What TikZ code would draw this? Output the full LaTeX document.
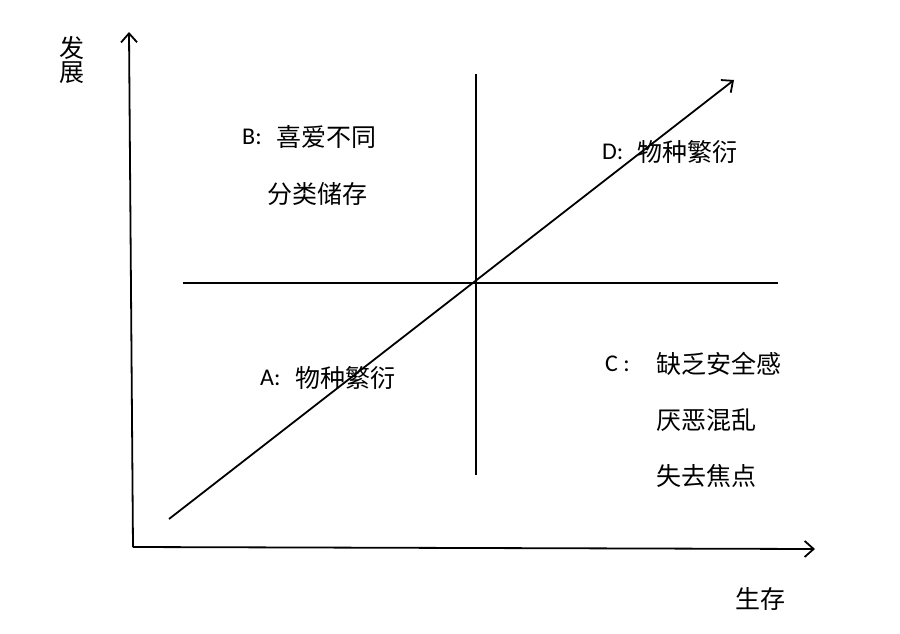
\documentclass[tikz,border=0pt]{standalone}
\usepackage{fontspec}
\setmainfont{Carlito}
\newfontfamily\cjk{Noto Sans CJK SC}
\usetikzlibrary{arrows.meta}
\begin{document}
\begin{tikzpicture}[x=1pt,y=-1pt,
  axis/.style={line width=1.8pt,-{Straight Barb[length=9pt,width=16pt,line width=1.8pt]}},
  plain/.style={line width=1.8pt},
  lab/.style={anchor=west,inner sep=0pt,font=\fontsize{24}{28}\selectfont},
  zh/.style={anchor=west,inner sep=0pt,font=\fontsize{25}{29}\selectfont\cjk}]
\path[use as bounding box,fill=white] (0,0) rectangle (900,633);
% axes
\coordinate (o) at (133,547);
\coordinate (ytop) at (129,32);
\coordinate (xend) at (815,549);
\draw[axis] (o) -- (ytop);
\draw[axis] (o) -- (xend);
% cross
\coordinate (hl) at (183,283);
\coordinate (hr) at (778,283);
\coordinate (vt) at (476,74);
\coordinate (vb) at (476,475);
\draw[plain] (hl) -- (hr);
\draw[plain] (vt) -- (vb);
% diagonal
\coordinate (ds) at (169,519);
\coordinate (de) at (734,80);
\draw[axis] (ds) -- (de);
% axis labels
\node[zh] (fa) at (59,48) {发};
\node[zh] (zhan) at (59,73) {展};
\node[zh] (sc) at (735,599) {生存};
% B
\node[lab] (bl) at (242,137) {B:};
\node[zh] (b1) at (276,137) {喜爱不同};
\node[zh] (b2) at (267,194) {分类储存};
% D
\node[lab] (dl) at (602,152) {D:};
\node[zh] (d1) at (637,152) {物种繁衍};
% A
\node[lab] (al) at (260,378) {A:};
\node[zh] (a1) at (295,378) {物种繁衍};
% C
\node[lab] (cl) at (605,364) {C :};
\node[zh] (c1) at (656,364) {缺乏安全感};
\node[zh] (c2) at (656,420) {厌恶混乱};
\node[zh] (c3) at (656,476) {失去焦点};
\end{tikzpicture}
\end{document}
